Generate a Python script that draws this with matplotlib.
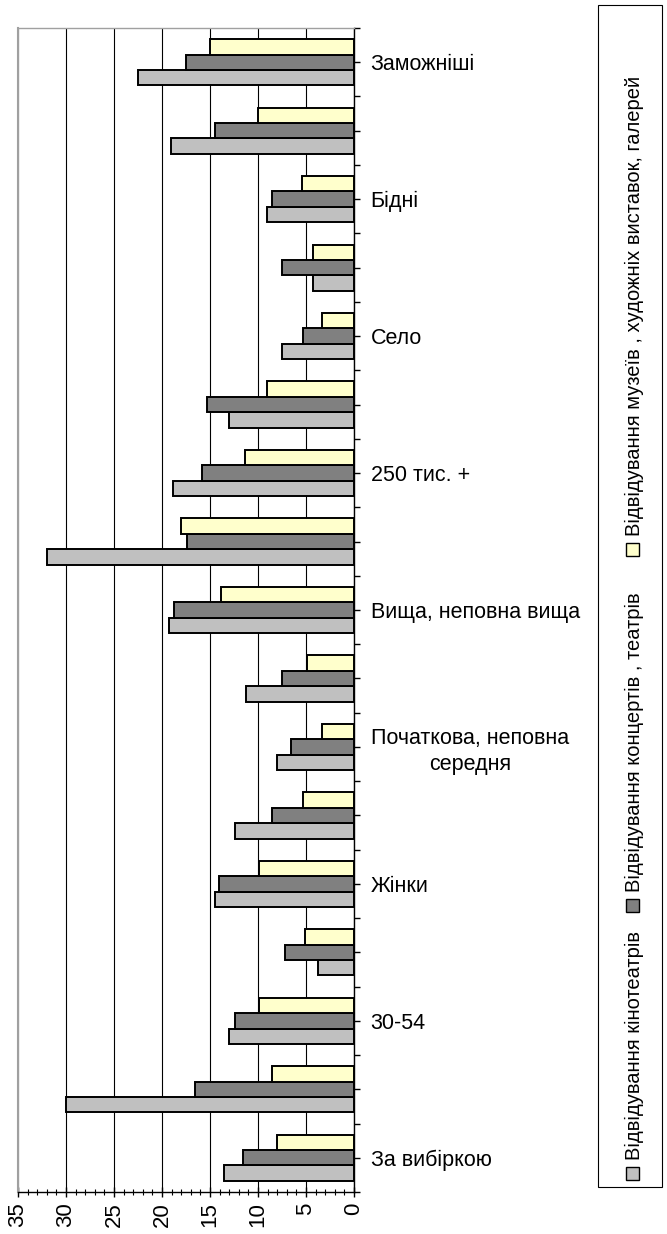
import numpy as np
import matplotlib.pyplot as plt
from matplotlib.patches import Rectangle

plt.rcParams['font.family'] = ['Liberation Sans', 'DejaVu Sans']

# categories from bottom to top, every other label is hidden as in the source
labels = ['За вибіркою', '', '30-54', '', 'Жінки', '',
          'Початкова, неповна\nсередня', '', 'Вища, неповна вища', '',
          '250 тис. +', '', 'Село', '', 'Бідні', '', 'Заможніші']

cinema = [13.5, 30.0, 13.0, 3.7, 14.5, 12.4, 8.05, 11.2, 19.3,
          32.0, 18.9, 13.0, 7.5, 4.3, 9.1, 19.1, 22.5]
concerts = [11.6, 16.6, 12.4, 7.2, 14.1, 8.5, 6.6, 7.45, 18.8,
            17.4, 15.8, 15.35, 5.35, 7.5, 8.5, 14.5, 17.5]
museums = [8.05, 8.5, 9.9, 5.1, 9.9, 5.35, 3.3, 4.9, 13.9,
           18.05, 11.35, 9.1, 3.3, 4.3, 5.4, 10.0, 15.0]

series_names = ['Відвідування кінотеатрів',
                'Відвідування концертів , театрів',
                'Відвідування музеїв , художніх виставок, галерей']
colors = ['#C0C0C0', '#808080', '#FFFFCC']


def main():
    fig = plt.figure(figsize=(6.67, 12.34), dpi=100)
    ax = fig.add_axes([18 / 667, 1 - 1192 / 1234, 336 / 667, 1164 / 1234])

    y = np.arange(len(labels))
    h = 0.225
    for k, vals in enumerate([cinema, concerts, museums]):
        ax.barh(y + (k - 1) * h, vals, height=h, color=colors[k],
                edgecolor='black', linewidth=1.4, zorder=3)

    ax.set_xlim(35, 0)
    ax.set_ylim(-0.5, len(labels) - 0.5)

    ax.set_xticks(np.arange(0, 36, 5))
    ax.set_xticks(np.arange(0, 36, 1), minor=True)
    ax.set_xticklabels([str(v) for v in range(0, 36, 5)], rotation=90,
                       fontsize=16)
    ax.tick_params(axis='x', which='major', direction='inout', length=7,
                   width=1, pad=4)
    ax.tick_params(axis='x', which='minor', direction='inout', length=5,
                   width=0.8)
    ax.grid(axis='x', which='major', color='black', linewidth=0.8, zorder=0)

    ax.yaxis.tick_right()
    ax.set_yticks(y)
    ax.set_yticks(np.arange(-0.5, len(labels), 1), minor=True)
    ax.set_yticklabels(labels, fontsize=15.5)
    for t in ax.get_yticklabels():
        t.set_multialignment('center')
        t.set_linespacing(1.3)
    ax.tick_params(axis='y', which='both', direction='out', length=4,
                   width=1, pad=8)
    ax.tick_params(axis='y', which='minor', left=False)

    ax.spines['left'].set_color('#A0A0A0')
    ax.spines['left'].set_linewidth(1.5)
    ax.spines['top'].set_color('#A0A0A0')
    ax.spines['top'].set_linewidth(1.0)
    ax.spines['right'].set_linewidth(1.0)
    ax.spines['bottom'].set_linewidth(1.0)

    # legend, rotated like the rest of the picture
    W, H = 667.0, 1234.0
    fig.patches.append(Rectangle((598 / W, 1 - 1187 / H), 64 / W, 1182 / H,
                                 transform=fig.transFigure, fill=False,
                                 edgecolor='black', linewidth=0.8))
    sq_y = [1180, 912, 556]
    for k in range(3):
        fig.patches.append(Rectangle((626 / W, 1 - sq_y[k] / H), 13 / W, 13 / H,
                                     transform=fig.transFigure,
                                     facecolor=colors[k], edgecolor='black',
                                     linewidth=1.0))
        fig.text(634 / W, 1 - (sq_y[k] - 20) / H, series_names[k],
                 rotation=90, ha='center', va='bottom', fontsize=14.5)

    fig.savefig('out.png', dpi=100)


if __name__ == '__main__':
    main()
